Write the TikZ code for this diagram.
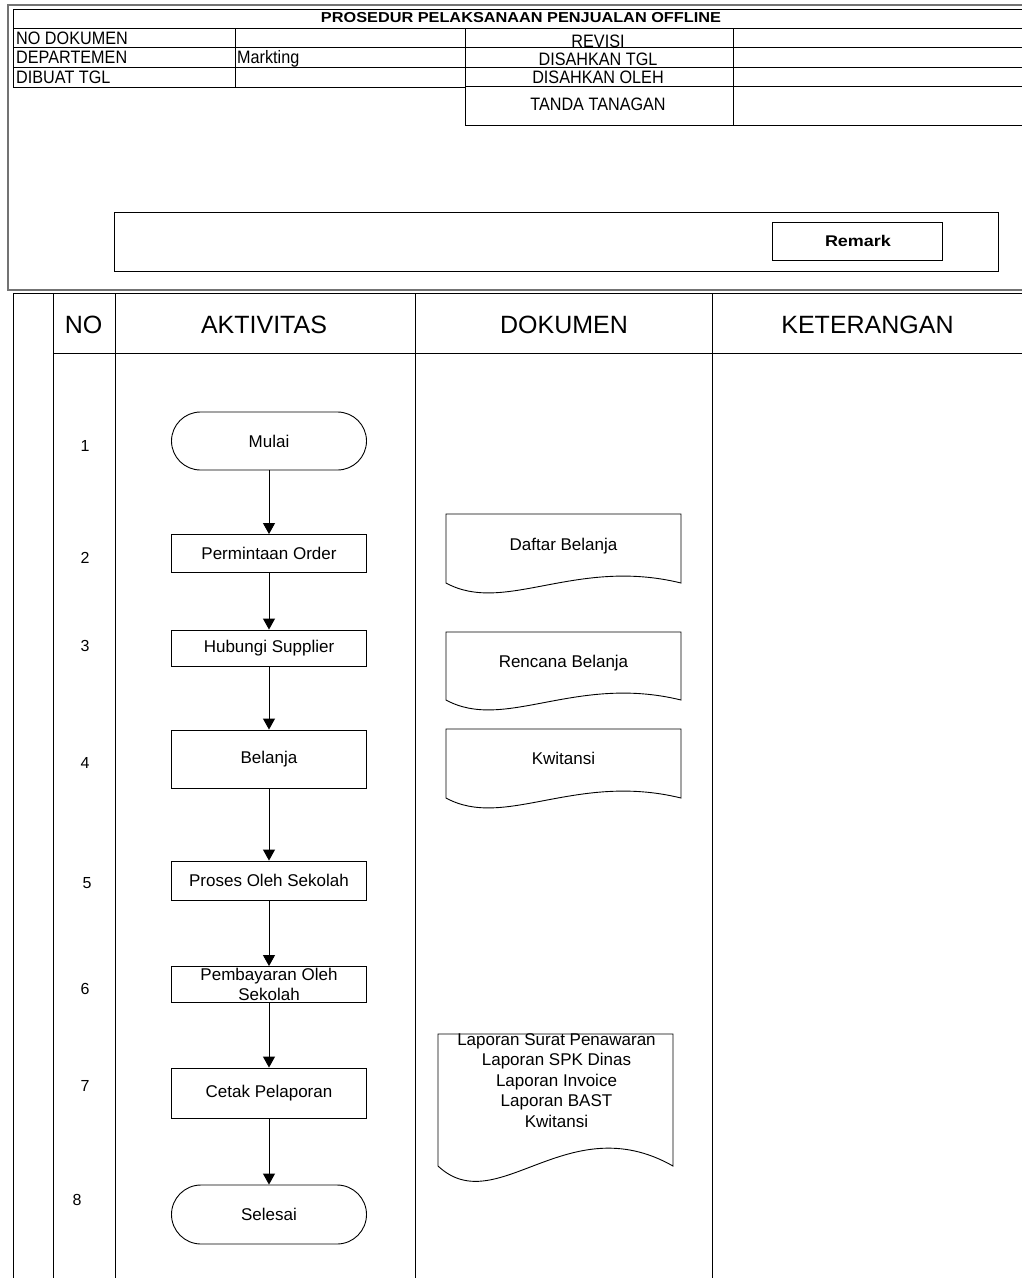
\documentclass[tikz,border=0pt]{standalone}
\usepackage{fontspec}
\usepackage{graphicx}
\setmainfont{Liberation Sans}
\newfontfamily\hdrfont[FakeStretch=0.9]{Liberation Sans}
\usetikzlibrary{arrows.meta,shapes.misc}
\tikzset{
  ln/.style={line width=0.9pt, draw=black},
  frameln/.style={line width=1.5pt, draw=black!55},
  proc/.style={draw, line width=0.9pt, minimum width=195pt, inner sep=0pt, align=center,
    font=\fontsize{17}{20}\selectfont},
  term/.style={proc, rounded rectangle},
  flow/.style={line width=0.9pt, -{Triangle[length=11pt,width=12pt]}},
  hdrtxt/.style={inner sep=0pt, anchor=base west, font=\hdrfont\fontsize{18}{20}\selectfont},
  hdrtxtc/.style={inner sep=0pt, anchor=base, font=\hdrfont\fontsize{18}{20}\selectfont},
  colhead/.style={inner sep=0pt, anchor=base, font=\fontsize{25}{28}\selectfont},
  numtxt/.style={inner sep=0pt, font=\fontsize{16}{18}\selectfont},
  doctxt/.style={inner sep=0pt, anchor=base, align=center, font=\fontsize{17}{20.4}\selectfont},
}
\newcommand{\docshape}[6]{%
  \draw[ln] (#1,#4) -- (#1,#2) -- (#3,#2) -- (#3,#4)
    .. controls ({#1+0.55*(#3-#1)},{#4-#6}) and ({#1+0.25*(#3-#1)},{#4+#5}) .. cycle;}
\begin{document}
\begin{tikzpicture}[x=1pt,y=-1pt]
\useasboundingbox (0,0) rectangle (1022,1278);

% ---------- header frame ----------
\draw[frameln] (1030,5) -- (8,5) -- (8,290) -- (1030,290);

% title row and left table
\draw[ln] (13,9) -- (1030,9);
\draw[ln] (13,9) -- (13,87) -- (465,87);
\draw[ln] (13,28) -- (1030,28);
\draw[ln] (13,47.5) -- (1030,47.5);
\draw[ln] (13,67) -- (1030,67);
\draw[ln] (235,28) -- (235,87);
% right table
\draw[ln] (465,28) -- (465,125) -- (1030,125);
\draw[ln] (465,86) -- (1030,86);
\draw[ln] (733,28) -- (733,125);

\node[inner sep=0pt, anchor=base] (title) at (521,22.7)
  {\resizebox{400pt}{\height}{\fontsize{14.4}{16}\selectfont\bfseries PROSEDUR PELAKSANAAN PENJUALAN OFFLINE}};

\node[hdrtxt] (nodok) at (16,44) {NO DOKUMEN};
\node[hdrtxt] (dept) at (16,63.3) {DEPARTEMEN};
\node[hdrtxt] (dibuat) at (16,83.3) {DIBUAT TGL};
\node[hdrtxt] (mark) at (237,63.3) {Markting};

\node[hdrtxtc] (revisi) at (598,47) {REVISI};
\node[hdrtxtc] (distgl) at (598,65) {DISAHKAN TGL};
\node[hdrtxtc] (disoleh) at (598,83.3) {DISAHKAN OLEH};
\node[hdrtxtc] (ttd) at (598,110) {TANDA TANAGAN};

% remark area
\draw[ln] (114,212.5) rectangle (998,271);
\node[draw, line width=0.9pt, minimum width=170pt, minimum height=38pt, inner sep=0pt] (remark) at (857,241.5) {};
\node[inner sep=0pt, anchor=base] (remarktxt) at (858,246.5)
  {\resizebox{66pt}{\height}{\fontsize{15.5}{17}\selectfont\bfseries Remark}};

% ---------- lower table ----------
\draw[ln] (13,293) -- (1030,293);
\draw[ln] (53,353) -- (1030,353);
\foreach \xx in {13,53,115,415,712} {\draw[ln] (\xx,293) -- (\xx,1285);}

\node[colhead] (hno) at (83.5,333) {NO};
\node[colhead] (hakt) at (264,333) {AKTIVITAS};
\node[colhead] (hdok) at (564,333) {DOKUMEN};
\node[colhead] (hket) at (867.5,333) {KETERANGAN};

% numbers
\node[numtxt] (k1) at (85,446) {1};
\node[numtxt] (k2) at (85,558) {2};
\node[numtxt] (k3) at (85,646) {3};
\node[numtxt] (k4) at (85,763) {4};
\node[numtxt] (k5) at (87,883) {5};
\node[numtxt] (k6) at (85,989) {6};
\node[numtxt] (k7) at (85,1086) {7};
\node[numtxt] (k8) at (77,1200) {8};

% flow nodes
\node[term, minimum height=58pt] (n1) at (269,441) {Mulai};
\node[proc, minimum height=38pt] (n2) at (269,553.5) {Permintaan Order};
\node[proc, minimum height=36pt] (n3) at (269,648) {Hubungi Supplier};
\node[proc, minimum height=58pt] (n4) at (269,759) {Belanja};
\node[proc, minimum height=39pt] (n5) at (269,880.5) {Proses Oleh Sekolah};
\node[proc, minimum height=36pt] (n6) at (269,984.5) {Pembayaran Oleh\\Sekolah};
\node[proc, minimum height=50pt] (n7) at (269,1093) {Cetak Pelaporan};
\node[term, minimum height=59pt] (n8) at (269,1214.5) {Selesai};

\draw[flow] (n1.south) -- (n2.north);
\draw[flow] (n2.south) -- (n3.north);
\draw[flow] (n3.south) -- (n4.north);
\draw[flow] (n4.south) -- (n5.north);
\draw[flow] (n5.south) -- (n6.north);
\draw[flow] (n6.south) -- (n7.north);
\draw[flow] (n7.south) -- (n8.north);

% documents
\docshape{446}{514}{681}{583}{32}{26}
\node[doctxt] (d1) at (563.5,550) {Daftar Belanja};
\docshape{446}{632}{681}{700}{32}{26}
\node[doctxt] (d2) at (563.5,667.7) {Rencana Belanja};
\docshape{446}{729}{681}{798}{32}{26}
\node[doctxt] (d3) at (563.5,764) {Kwitansi};
\docshape{438}{1034}{673}{1166}{55}{60}
\node[doctxt, anchor=center] (d4) at (556.5,1080.5)
  {Laporan Surat Penawaran\\Laporan SPK Dinas\\Laporan Invoice\\Laporan BAST\\Kwitansi};

\end{tikzpicture}
\end{document}
